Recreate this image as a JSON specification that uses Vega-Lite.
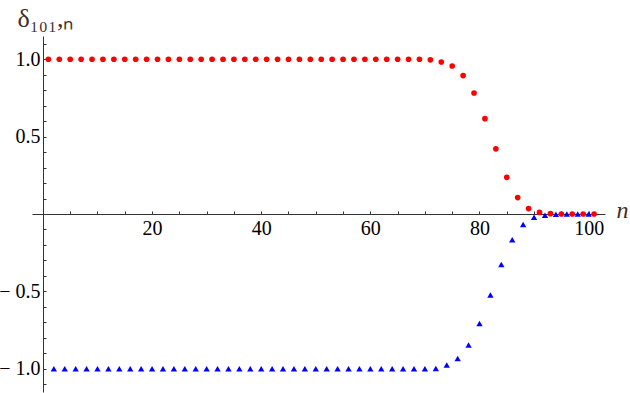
{
  "$schema": "https://vega.github.io/schema/vega-lite/v6.json",
  "width": 573,
  "height": 356,
  "autosize": {"type": "none"},
  "padding": {"left": 32, "top": 36, "right": 25, "bottom": 1},
  "background": "white",
  "config": {
    "view": {"stroke": null},
    "font": "Liberation Serif",
    "axis": {
      "labelColor": "#000000",
      "domainColor": "#333333",
      "tickColor": "#333333",
      "grid": false
    }
  },
  "datasets": {
    "pts": [
      {"n": 1, "v": 1.0, "s": "odd"}, {"n": 3, "v": 1.0, "s": "odd"}, {"n": 5, "v": 1.0, "s": "odd"}, {"n": 7, "v": 1.0, "s": "odd"},
      {"n": 9, "v": 1.0, "s": "odd"}, {"n": 11, "v": 1.0, "s": "odd"}, {"n": 13, "v": 1.0, "s": "odd"}, {"n": 15, "v": 1.0, "s": "odd"},
      {"n": 17, "v": 1.0, "s": "odd"}, {"n": 19, "v": 1.0, "s": "odd"}, {"n": 21, "v": 1.0, "s": "odd"}, {"n": 23, "v": 1.0, "s": "odd"},
      {"n": 25, "v": 1.0, "s": "odd"}, {"n": 27, "v": 1.0, "s": "odd"}, {"n": 29, "v": 1.0, "s": "odd"}, {"n": 31, "v": 1.0, "s": "odd"},
      {"n": 33, "v": 1.0, "s": "odd"}, {"n": 35, "v": 1.0, "s": "odd"}, {"n": 37, "v": 1.0, "s": "odd"}, {"n": 39, "v": 1.0, "s": "odd"},
      {"n": 41, "v": 1.0, "s": "odd"}, {"n": 43, "v": 1.0, "s": "odd"}, {"n": 45, "v": 1.0, "s": "odd"}, {"n": 47, "v": 1.0, "s": "odd"},
      {"n": 49, "v": 1.0, "s": "odd"}, {"n": 51, "v": 1.0, "s": "odd"}, {"n": 53, "v": 1.0, "s": "odd"}, {"n": 55, "v": 1.0, "s": "odd"},
      {"n": 57, "v": 1.0, "s": "odd"}, {"n": 59, "v": 1.0, "s": "odd"}, {"n": 61, "v": 1.0, "s": "odd"}, {"n": 63, "v": 1.0, "s": "odd"},
      {"n": 65, "v": 1.0, "s": "odd"}, {"n": 67, "v": 1.0, "s": "odd"}, {"n": 69, "v": 1.0, "s": "odd"}, {"n": 71, "v": 0.996, "s": "odd"},
      {"n": 73, "v": 0.982, "s": "odd"}, {"n": 75, "v": 0.956, "s": "odd"}, {"n": 77, "v": 0.894, "s": "odd"}, {"n": 79, "v": 0.782, "s": "odd"},
      {"n": 81, "v": 0.616, "s": "odd"}, {"n": 83, "v": 0.421, "s": "odd"}, {"n": 85, "v": 0.237, "s": "odd"}, {"n": 87, "v": 0.106, "s": "odd"},
      {"n": 89, "v": 0.035, "s": "odd"}, {"n": 91, "v": 0.01, "s": "odd"}, {"n": 93, "v": 0.002, "s": "odd"}, {"n": 95, "v": 0.0, "s": "odd"},
      {"n": 97, "v": 0.0, "s": "odd"}, {"n": 99, "v": 0.0, "s": "odd"}, {"n": 101, "v": 0.0, "s": "odd"},
      {"n": 2, "v": -1.0, "s": "even"}, {"n": 4, "v": -1.0, "s": "even"}, {"n": 6, "v": -1.0, "s": "even"}, {"n": 8, "v": -1.0, "s": "even"},
      {"n": 10, "v": -1.0, "s": "even"}, {"n": 12, "v": -1.0, "s": "even"}, {"n": 14, "v": -1.0, "s": "even"}, {"n": 16, "v": -1.0, "s": "even"},
      {"n": 18, "v": -1.0, "s": "even"}, {"n": 20, "v": -1.0, "s": "even"}, {"n": 22, "v": -1.0, "s": "even"}, {"n": 24, "v": -1.0, "s": "even"},
      {"n": 26, "v": -1.0, "s": "even"}, {"n": 28, "v": -1.0, "s": "even"}, {"n": 30, "v": -1.0, "s": "even"}, {"n": 32, "v": -1.0, "s": "even"},
      {"n": 34, "v": -1.0, "s": "even"}, {"n": 36, "v": -1.0, "s": "even"}, {"n": 38, "v": -1.0, "s": "even"}, {"n": 40, "v": -1.0, "s": "even"},
      {"n": 42, "v": -1.0, "s": "even"}, {"n": 44, "v": -1.0, "s": "even"}, {"n": 46, "v": -1.0, "s": "even"}, {"n": 48, "v": -1.0, "s": "even"},
      {"n": 50, "v": -1.0, "s": "even"}, {"n": 52, "v": -1.0, "s": "even"}, {"n": 54, "v": -1.0, "s": "even"}, {"n": 56, "v": -1.0, "s": "even"},
      {"n": 58, "v": -1.0, "s": "even"}, {"n": 60, "v": -1.0, "s": "even"}, {"n": 62, "v": -1.0, "s": "even"}, {"n": 64, "v": -1.0, "s": "even"},
      {"n": 66, "v": -1.0, "s": "even"}, {"n": 68, "v": -1.0, "s": "even"}, {"n": 70, "v": -1.0, "s": "even"}, {"n": 72, "v": -0.998, "s": "even"},
      {"n": 74, "v": -0.976, "s": "even"}, {"n": 76, "v": -0.934, "s": "even"}, {"n": 78, "v": -0.846, "s": "even"}, {"n": 80, "v": -0.708, "s": "even"},
      {"n": 82, "v": -0.524, "s": "even"}, {"n": 84, "v": -0.326, "s": "even"}, {"n": 86, "v": -0.166, "s": "even"}, {"n": 88, "v": -0.068, "s": "even"},
      {"n": 90, "v": -0.021, "s": "even"}, {"n": 92, "v": -0.008, "s": "even"}, {"n": 94, "v": -0.002, "s": "even"}, {"n": 96, "v": 0.0, "s": "even"},
      {"n": 98, "v": 0.0, "s": "even"}, {"n": 100, "v": 0.0, "s": "even"}
    ]
  },
  "data": {"name": "pts"},
  "mark": {"type": "point", "filled": true, "opacity": 1, "clip": false},
  "encoding": {
    "x": {
      "field": "n",
      "type": "quantitative",
      "scale": {"domain": [-2, 103], "nice": false, "zero": false},
      "axis": {
        "orient": "bottom",
        "offset": -178,
        "values": [5, 10, 15, 20, 25, 30, 35, 40, 45, 50, 55, 60, 65, 70, 75, 80, 85, 90, 95, 100],
        "labelExpr": "datum.value % 20 == 0 ? datum.label : ''",
        "labelFont": "Liberation Serif",
        "labelFontSize": 20,
        "labelColor": "#000000",
        "tickSize": -3,
        "labelPadding": 7,
        "labelBaseline": "top",
        "title": "n",
        "titleFont": "Liberation Serif",
        "titleFontStyle": "italic",
        "titleFontWeight": "normal",
        "titleFontSize": 24,
        "titleColor": "#3f2f1f",
        "titleAlign": "center",
        "titleBaseline": "middle",
        "titleX": 590,
        "titleY": -4
      }
    },
    "y": {
      "field": "v",
      "type": "quantitative",
      "scale": {"domain": [-1.15, 1.15], "nice": false, "zero": false},
      "axis": {
        "orient": "left",
        "offset": -11,
        "values": [-1.1, -1.0, -0.9, -0.8, -0.7, -0.6, -0.5, -0.4, -0.3, -0.2, -0.1, 0.1, 0.2, 0.3, 0.4, 0.5, 0.6, 0.7, 0.8, 0.9, 1.0, 1.1],
        "labelExpr": "(abs(datum.value) == 0.5 || abs(datum.value) == 1) ? replace(replace(format(datum.value, '.1f'), '\u2212', '\u2212 '), '-', '\u2212 ') : ''",
        "labelFont": "Liberation Serif",
        "labelFontSize": 20,
        "tickSize": -3,
        "labelPadding": 6,
        "title": "δ₁₀₁,ₙ",
        "titleAngle": 0,
        "titleFont": "Liberation Serif",
        "titleFontWeight": "normal",
        "titleFontSize": 26,
        "titleColor": "#3f2f1f",
        "titleAlign": "left",
        "titleBaseline": "alphabetic",
        "titleX": -26,
        "titleY": -10
      }
    },
    "color": {
      "field": "s",
      "type": "nominal",
      "scale": {"domain": ["odd", "even"], "range": ["#ff0000", "#0000ff"]},
      "legend": null
    },
    "shape": {
      "field": "s",
      "type": "nominal",
      "scale": {"domain": ["odd", "even"], "range": ["circle", "triangle-up"]},
      "legend": null
    },
    "size": {
      "field": "s",
      "type": "nominal",
      "scale": {"domain": ["odd", "even"], "range": [32, 40]},
      "legend": null
    }
  }
}
